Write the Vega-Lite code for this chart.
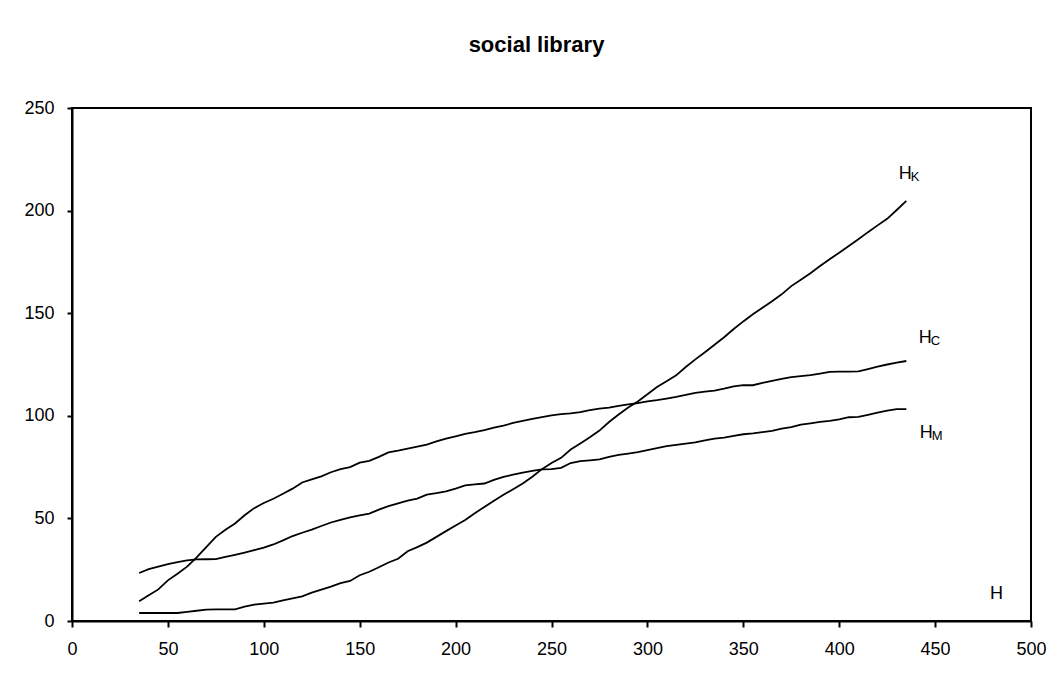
{
  "$schema": "https://vega.github.io/schema/vega-lite/v6.json",
  "autosize": {"type": "none"},
  "padding": {"left": 72, "top": 108, "right": 30, "bottom": 66},
  "width": 959,
  "height": 513,
  "background": "white",
  "title": {"text": "social library", "fontSize": 22, "fontWeight": "bold", "font": "Liberation Sans", "color": "black", "anchor": "middle", "frame": "group", "dx": -15, "offset": 42},
  "config": {
    "view": {"stroke": "black", "strokeWidth": 2},
    "axis": {"grid": false, "domainColor": "black", "domainWidth": 2, "tickColor": "black", "tickWidth": 2, "labelFont": "Liberation Sans", "labelFontSize": 18, "labelColor": "black", "title": null}
  },
  "datasets": {
    "series": [
      {"s":"HC","x":35,"y":9.6},{"s":"HC","x":40,"y":12.5},{"s":"HC","x":45,"y":15.4},{"s":"HC","x":50,"y":19.8},{"s":"HC","x":55,"y":23},{"s":"HC","x":60,"y":26.5},{"s":"HC","x":65,"y":31},{"s":"HC","x":70,"y":36},{"s":"HC","x":75,"y":41},{"s":"HC","x":80,"y":44.5},{"s":"HC","x":85,"y":47.5},{"s":"HC","x":90,"y":51.5},{"s":"HC","x":95,"y":55},{"s":"HC","x":100,"y":57.5},{"s":"HC","x":105,"y":59.6},{"s":"HC","x":110,"y":62},{"s":"HC","x":115,"y":64.5},{"s":"HC","x":120,"y":67.5},{"s":"HC","x":125,"y":69},{"s":"HC","x":130,"y":70.5},{"s":"HC","x":135,"y":72.5},{"s":"HC","x":140,"y":74},{"s":"HC","x":145,"y":75},{"s":"HC","x":150,"y":77.2},{"s":"HC","x":155,"y":78},{"s":"HC","x":160,"y":80},{"s":"HC","x":165,"y":82.2},{"s":"HC","x":170,"y":83},{"s":"HC","x":175,"y":84},{"s":"HC","x":180,"y":85},{"s":"HC","x":185,"y":86},{"s":"HC","x":190,"y":87.5},{"s":"HC","x":195,"y":88.9},{"s":"HC","x":200,"y":90},{"s":"HC","x":205,"y":91.2},{"s":"HC","x":210,"y":92},{"s":"HC","x":215,"y":93},{"s":"HC","x":220,"y":94.2},{"s":"HC","x":225,"y":95.2},{"s":"HC","x":230,"y":96.5},{"s":"HC","x":235,"y":97.5},{"s":"HC","x":240,"y":98.5},{"s":"HC","x":245,"y":99.4},{"s":"HC","x":250,"y":100.2},{"s":"HC","x":255,"y":100.8},{"s":"HC","x":260,"y":101.2},{"s":"HC","x":265,"y":101.8},{"s":"HC","x":270,"y":102.8},{"s":"HC","x":275,"y":103.5},{"s":"HC","x":280,"y":104},{"s":"HC","x":285,"y":104.8},{"s":"HC","x":290,"y":105.6},{"s":"HC","x":295,"y":106.2},{"s":"HC","x":300,"y":107},{"s":"HC","x":305,"y":107.6},{"s":"HC","x":310,"y":108.4},{"s":"HC","x":315,"y":109.2},{"s":"HC","x":320,"y":110.2},{"s":"HC","x":325,"y":111.2},{"s":"HC","x":330,"y":111.8},{"s":"HC","x":335,"y":112.3},{"s":"HC","x":340,"y":113.2},{"s":"HC","x":345,"y":114.3},{"s":"HC","x":350,"y":114.9},{"s":"HC","x":355,"y":114.9},{"s":"HC","x":360,"y":116},{"s":"HC","x":365,"y":117},{"s":"HC","x":370,"y":118},{"s":"HC","x":375,"y":118.8},{"s":"HC","x":380,"y":119.3},{"s":"HC","x":385,"y":119.8},{"s":"HC","x":390,"y":120.6},{"s":"HC","x":395,"y":121.4},{"s":"HC","x":400,"y":121.5},{"s":"HC","x":405,"y":121.5},{"s":"HC","x":410,"y":121.6},{"s":"HC","x":415,"y":122.8},{"s":"HC","x":420,"y":124},{"s":"HC","x":425,"y":125},{"s":"HC","x":430,"y":125.9},{"s":"HC","x":435,"y":126.7},
      {"s":"HM","x":35,"y":23.4},{"s":"HM","x":40,"y":25.3},{"s":"HM","x":45,"y":26.5},{"s":"HM","x":50,"y":27.7},{"s":"HM","x":55,"y":28.7},{"s":"HM","x":60,"y":29.5},{"s":"HM","x":65,"y":30},{"s":"HM","x":70,"y":30.1},{"s":"HM","x":75,"y":30.2},{"s":"HM","x":80,"y":31.2},{"s":"HM","x":85,"y":32.2},{"s":"HM","x":90,"y":33.3},{"s":"HM","x":95,"y":34.5},{"s":"HM","x":100,"y":35.8},{"s":"HM","x":105,"y":37.3},{"s":"HM","x":110,"y":39.3},{"s":"HM","x":115,"y":41.4},{"s":"HM","x":120,"y":43},{"s":"HM","x":125,"y":44.5},{"s":"HM","x":130,"y":46.3},{"s":"HM","x":135,"y":48},{"s":"HM","x":140,"y":49.3},{"s":"HM","x":145,"y":50.5},{"s":"HM","x":150,"y":51.5},{"s":"HM","x":155,"y":52.3},{"s":"HM","x":160,"y":54.3},{"s":"HM","x":165,"y":56},{"s":"HM","x":170,"y":57.3},{"s":"HM","x":175,"y":58.7},{"s":"HM","x":180,"y":59.6},{"s":"HM","x":185,"y":61.6},{"s":"HM","x":190,"y":62.3},{"s":"HM","x":195,"y":63.2},{"s":"HM","x":200,"y":64.5},{"s":"HM","x":205,"y":66.1},{"s":"HM","x":210,"y":66.6},{"s":"HM","x":215,"y":67},{"s":"HM","x":220,"y":68.8},{"s":"HM","x":225,"y":70.2},{"s":"HM","x":230,"y":71.3},{"s":"HM","x":235,"y":72.3},{"s":"HM","x":240,"y":73.2},{"s":"HM","x":245,"y":73.9},{"s":"HM","x":250,"y":74},{"s":"HM","x":255,"y":74.6},{"s":"HM","x":260,"y":77},{"s":"HM","x":265,"y":77.9},{"s":"HM","x":270,"y":78.3},{"s":"HM","x":275,"y":78.8},{"s":"HM","x":280,"y":80},{"s":"HM","x":285,"y":81},{"s":"HM","x":290,"y":81.6},{"s":"HM","x":295,"y":82.3},{"s":"HM","x":300,"y":83.3},{"s":"HM","x":305,"y":84.3},{"s":"HM","x":310,"y":85.2},{"s":"HM","x":315,"y":85.8},{"s":"HM","x":320,"y":86.4},{"s":"HM","x":325,"y":87},{"s":"HM","x":330,"y":88},{"s":"HM","x":335,"y":88.9},{"s":"HM","x":340,"y":89.4},{"s":"HM","x":345,"y":90.2},{"s":"HM","x":350,"y":91},{"s":"HM","x":355,"y":91.4},{"s":"HM","x":360,"y":92},{"s":"HM","x":365,"y":92.6},{"s":"HM","x":370,"y":93.7},{"s":"HM","x":375,"y":94.5},{"s":"HM","x":380,"y":95.7},{"s":"HM","x":385,"y":96.3},{"s":"HM","x":390,"y":97},{"s":"HM","x":395,"y":97.5},{"s":"HM","x":400,"y":98.3},{"s":"HM","x":405,"y":99.3},{"s":"HM","x":410,"y":99.5},{"s":"HM","x":415,"y":100.5},{"s":"HM","x":420,"y":101.5},{"s":"HM","x":425,"y":102.5},{"s":"HM","x":430,"y":103.3},{"s":"HM","x":435,"y":103.3},
      {"s":"HK","x":35,"y":3.9},{"s":"HK","x":40,"y":3.9},{"s":"HK","x":45,"y":3.9},{"s":"HK","x":50,"y":3.9},{"s":"HK","x":55,"y":3.9},{"s":"HK","x":60,"y":4.4},{"s":"HK","x":65,"y":5},{"s":"HK","x":70,"y":5.5},{"s":"HK","x":75,"y":5.7},{"s":"HK","x":80,"y":5.7},{"s":"HK","x":85,"y":5.7},{"s":"HK","x":90,"y":7},{"s":"HK","x":95,"y":8},{"s":"HK","x":100,"y":8.5},{"s":"HK","x":105,"y":9},{"s":"HK","x":110,"y":10},{"s":"HK","x":115,"y":11},{"s":"HK","x":120,"y":12},{"s":"HK","x":125,"y":13.8},{"s":"HK","x":130,"y":15.3},{"s":"HK","x":135,"y":16.8},{"s":"HK","x":140,"y":18.5},{"s":"HK","x":145,"y":19.5},{"s":"HK","x":150,"y":22.3},{"s":"HK","x":155,"y":24},{"s":"HK","x":160,"y":26.2},{"s":"HK","x":165,"y":28.5},{"s":"HK","x":170,"y":30.3},{"s":"HK","x":175,"y":34},{"s":"HK","x":180,"y":36},{"s":"HK","x":185,"y":38.2},{"s":"HK","x":190,"y":41},{"s":"HK","x":195,"y":43.8},{"s":"HK","x":200,"y":46.5},{"s":"HK","x":205,"y":49.2},{"s":"HK","x":210,"y":52.5},{"s":"HK","x":215,"y":55.6},{"s":"HK","x":220,"y":58.6},{"s":"HK","x":225,"y":61.5},{"s":"HK","x":230,"y":64.2},{"s":"HK","x":235,"y":67},{"s":"HK","x":240,"y":70.3},{"s":"HK","x":245,"y":74},{"s":"HK","x":250,"y":77},{"s":"HK","x":255,"y":79.5},{"s":"HK","x":260,"y":83.6},{"s":"HK","x":265,"y":86.5},{"s":"HK","x":270,"y":89.5},{"s":"HK","x":275,"y":92.8},{"s":"HK","x":280,"y":97},{"s":"HK","x":285,"y":100.6},{"s":"HK","x":290,"y":104},{"s":"HK","x":295,"y":107},{"s":"HK","x":300,"y":110.5},{"s":"HK","x":305,"y":114},{"s":"HK","x":310,"y":116.8},{"s":"HK","x":315,"y":119.7},{"s":"HK","x":320,"y":123.8},{"s":"HK","x":325,"y":127.5},{"s":"HK","x":330,"y":131},{"s":"HK","x":335,"y":134.6},{"s":"HK","x":340,"y":138.3},{"s":"HK","x":345,"y":142.3},{"s":"HK","x":350,"y":146},{"s":"HK","x":355,"y":149.5},{"s":"HK","x":360,"y":152.7},{"s":"HK","x":365,"y":155.8},{"s":"HK","x":370,"y":159.2},{"s":"HK","x":375,"y":163.2},{"s":"HK","x":380,"y":166.3},{"s":"HK","x":385,"y":169.5},{"s":"HK","x":390,"y":173},{"s":"HK","x":395,"y":176.3},{"s":"HK","x":400,"y":179.5},{"s":"HK","x":405,"y":182.7},{"s":"HK","x":410,"y":186},{"s":"HK","x":415,"y":189.5},{"s":"HK","x":420,"y":192.8},{"s":"HK","x":425,"y":196},{"s":"HK","x":430,"y":200.3},{"s":"HK","x":435,"y":204.7}
    ],
    "labels": [
      {"x":431.1,"y":218,"main":"H","sub":"K"},
      {"x":441.5,"y":137.8,"main":"H","sub":"C"},
      {"x":442,"y":91.6,"main":"H","sub":"M"},
      {"x":478.6,"y":13,"main":"H","sub":""}
    ]
  },
  "encoding": {
    "x": {"field": "x", "type": "quantitative", "scale": {"domain": [0, 500], "nice": false, "zero": true},
          "axis": {"values": [0,50,100,150,200,250,300,350,400,450,500], "tickSize": 6, "labelPadding": 13, "labelFlush": false, "labelOverlap": false}},
    "y": {"field": "y", "type": "quantitative", "scale": {"domain": [0, 250], "nice": false},
          "axis": {"values": [0,50,100,150,200,250], "tickSize": 5, "labelPadding": 13, "labelFlush": false, "labelOverlap": false}}
  },
  "layer": [
    {
      "data": {"name": "series"},
      "mark": {"type": "line", "color": "black", "strokeWidth": 1.8},
      "encoding": {"detail": {"field": "s"}}
    },
    {
      "data": {"name": "labels"},
      "mark": {"type": "text", "align": "left", "baseline": "middle", "font": "Liberation Sans", "fontSize": 18, "color": "black"},
      "encoding": {"text": {"field": "main"}}
    },
    {
      "data": {"name": "labels"},
      "mark": {"type": "text", "align": "left", "baseline": "middle", "font": "Liberation Sans", "fontSize": 13, "color": "black", "dx": 12, "dy": 3},
      "encoding": {"text": {"field": "sub"}}
    }
  ]
}
